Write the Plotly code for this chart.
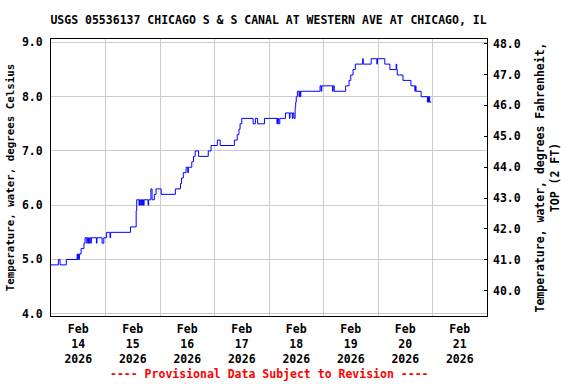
import plotly.graph_objects as go

TITLE = "USGS 05536137 CHICAGO S & S CANAL AT WESTERN AVE AT CHICAGO, IL"
Y_LEFT_TITLE = "Temperature, water, degrees Celsius"
Y_RIGHT_TITLE = "Temperature, water, degrees Fahrenheit,<br>TOP (2 FT)"
NOTE = "---- Provisional Data Subject to Revision ----"

times = [
    "2026-02-14 00:00", "2026-02-14 03:15", "2026-02-14 04:00", "2026-02-14 06:45",
    "2026-02-14 11:30", "2026-02-14 11:45", "2026-02-14 12:00", "2026-02-14 12:15",
    "2026-02-14 12:30", "2026-02-14 13:15", "2026-02-14 14:30", "2026-02-14 15:00",
    "2026-02-14 15:45", "2026-02-14 16:00", "2026-02-14 16:30", "2026-02-14 17:00",
    "2026-02-14 17:30", "2026-02-14 17:45", "2026-02-14 20:00", "2026-02-14 20:15",
    "2026-02-14 22:30", "2026-02-14 23:15", "2026-02-15 00:30", "2026-02-15 02:00",
    "2026-02-15 02:15", "2026-02-15 11:00", "2026-02-15 13:30", "2026-02-15 13:45",
    "2026-02-15 14:45", "2026-02-15 15:00", "2026-02-15 15:30", "2026-02-15 15:45",
    "2026-02-15 16:00", "2026-02-15 16:15", "2026-02-15 16:45", "2026-02-15 17:00",
    "2026-02-15 18:45", "2026-02-15 19:00", "2026-02-15 20:00", "2026-02-15 20:30",
    "2026-02-15 21:30", "2026-02-15 22:15", "2026-02-16 00:30", "2026-02-16 06:45",
    "2026-02-16 09:00", "2026-02-16 09:30", "2026-02-16 10:15", "2026-02-16 11:30",
    "2026-02-16 12:15", "2026-02-16 12:30", "2026-02-16 14:00", "2026-02-16 14:45",
    "2026-02-16 15:30", "2026-02-16 17:00", "2026-02-16 21:15", "2026-02-16 22:30",
    "2026-02-17 01:15", "2026-02-17 02:30", "2026-02-17 08:45", "2026-02-17 10:00",
    "2026-02-17 10:45", "2026-02-17 11:15", "2026-02-17 12:00", "2026-02-17 17:00",
    "2026-02-17 18:00", "2026-02-17 19:00", "2026-02-17 22:00", "2026-02-18 03:30",
    "2026-02-18 03:45", "2026-02-18 04:15", "2026-02-18 04:45", "2026-02-18 07:15",
    "2026-02-18 09:00", "2026-02-18 09:15", "2026-02-18 10:15", "2026-02-18 10:30",
    "2026-02-18 11:00", "2026-02-18 11:30", "2026-02-18 11:45", "2026-02-18 12:00",
    "2026-02-18 12:30", "2026-02-18 13:15", "2026-02-18 13:30", "2026-02-18 13:45",
    "2026-02-18 14:00", "2026-02-18 22:30", "2026-02-18 23:00", "2026-02-18 23:15",
    "2026-02-19 04:00", "2026-02-19 04:15", "2026-02-19 04:45", "2026-02-19 09:45",
    "2026-02-19 11:15", "2026-02-19 12:00", "2026-02-19 13:00", "2026-02-19 14:00",
    "2026-02-19 17:15", "2026-02-19 17:30", "2026-02-19 21:00", "2026-02-19 23:30",
    "2026-02-19 23:45", "2026-02-20 03:00", "2026-02-20 05:15", "2026-02-20 08:00",
    "2026-02-20 08:15", "2026-02-20 08:30", "2026-02-20 11:00", "2026-02-20 14:30",
    "2026-02-20 16:15", "2026-02-20 16:30", "2026-02-20 16:45", "2026-02-20 19:00",
    "2026-02-20 21:45", "2026-02-20 22:00", "2026-02-20 22:15", "2026-02-20 22:30",
    "2026-02-20 22:45", "2026-02-20 23:30",
]

temps_c = [
    4.9, 5.0, 4.9, 5.0,
    5.1, 5.0, 5.1, 5.0,
    5.1, 5.2, 5.3, 5.4,
    5.3, 5.4, 5.3, 5.4,
    5.3, 5.4, 5.3, 5.4,
    5.3, 5.4, 5.5, 5.4,
    5.5, 5.6, 5.9, 6.1,
    6.0, 6.1, 6.0, 6.1,
    6.0, 6.1, 6.0, 6.1,
    6.0, 6.1, 6.3, 6.1,
    6.2, 6.3, 6.2, 6.3,
    6.4, 6.5, 6.6, 6.7,
    6.6, 6.7, 6.8, 6.9,
    7.0, 6.9, 7.0, 7.1,
    7.2, 7.1, 7.2, 7.3,
    7.4, 7.5, 7.6, 7.5,
    7.6, 7.5, 7.6, 7.5,
    7.6, 7.5, 7.6, 7.7,
    7.6, 7.7, 7.6, 7.7,
    7.6, 7.8, 7.9, 8.0,
    8.1, 8.0, 8.1, 8.0,
    8.1, 8.2, 8.1, 8.2,
    8.1, 8.2, 8.1, 8.2,
    8.3, 8.4, 8.5, 8.6,
    8.7, 8.6, 8.7, 8.6,
    8.7, 8.6, 8.5, 8.6,
    8.5, 8.4, 8.3, 8.2,
    8.1, 8.2, 8.1, 8.0,
    7.9, 8.0, 7.9, 8.0,
    7.9, 7.9,
]

temps_f = [c * 1.8 + 32 for c in temps_c]

tick_days = ["2026-02-14", "2026-02-15", "2026-02-16", "2026-02-17",
             "2026-02-18", "2026-02-19", "2026-02-20", "2026-02-21"]
tick_labels = ["Feb<br>14<br>2026", "Feb<br>15<br>2026", "Feb<br>16<br>2026", "Feb<br>17<br>2026",
               "Feb<br>18<br>2026", "Feb<br>19<br>2026", "Feb<br>20<br>2026", "Feb<br>21<br>2026"]
x_start = "2026-02-14 00:00"
x_end = "2026-02-22 00:00"
c_ticks = [4, 5, 6, 7, 8, 9]
f_ticks = [40, 41, 42, 43, 44, 45, 46, 47, 48]

FONT = "DejaVu Sans Mono"
GRID = "#cccccc"
FS = 11.5

fig = go.Figure()
fig.add_trace(go.Scatter(x=times, y=temps_c, mode="lines", line_shape="hv",
                         line=dict(color="#0000ff", width=1), showlegend=False))
fig.add_trace(go.Scatter(x=times, y=temps_f, mode="lines", line_shape="hv",
                         line=dict(color="rgba(0,0,0,0)", width=0), yaxis="y2",
                         showlegend=False, hoverinfo="skip"))

fig.update_layout(
    width=576, height=384,
    margin=dict(l=51, r=89, t=39, b=68, autoexpand=False),
    paper_bgcolor="white", plot_bgcolor="white",
    font=dict(family=FONT, size=FS, color="black", weight="bold"),
    title=dict(text=TITLE, x=268.5 / 576, xanchor="center", xref="container",
               y=1 - 20 / 384, yanchor="middle", yref="container",
               font=dict(family=FONT, size=FS, color="black", weight="bold")),
    xaxis=dict(
        type="date", range=[x_start, x_end], automargin=False,
        tickvals=[d + " 12:00" for d in tick_days], ticktext=tick_labels,
        ticks="", showgrid=False, showline=True, linecolor="black", linewidth=1,
        mirror=True, zeroline=False, ticklabelstandoff=2,
        tickfont=dict(family=FONT, size=FS, weight="bold"),
        minor=dict(showgrid=True, gridcolor=GRID, gridwidth=1,
                   tick0=x_start, dtick=86400000),
    ),
    yaxis=dict(
        range=[3.958, 9.063], tickvals=c_ticks, tickformat=".1f", automargin=False,
        showgrid=True, gridcolor=GRID, gridwidth=1, ticks="",
        showline=True, linecolor="black", linewidth=1, mirror=True, zeroline=False,
        ticklabelstandoff=5,
        tickfont=dict(family=FONT, size=FS, weight="bold"),
        title=dict(text=Y_LEFT_TITLE, standoff=5,
                   font=dict(family=FONT, size=10.8, weight="bold")),
    ),
    yaxis2=dict(
        overlaying="y", side="right", range=[39.18, 48.15], tickvals=f_ticks,
        tickformat=".1f", showgrid=False, zeroline=False, ticks="inside",
        ticklen=3, tickcolor="black", showline=False, automargin=False,
        ticklabelstandoff=5,
        tickfont=dict(family=FONT, size=FS, weight="bold"),
        title=dict(text=Y_RIGHT_TITLE, standoff=16,
                   font=dict(family=FONT, size=FS, weight="bold")),
    ),
    annotations=[dict(text=NOTE, xref="paper", yref="paper", x=0.5, y=(316 - 374) / 277,
                      xanchor="center", yanchor="middle", showarrow=False,
                      font=dict(family=FONT, size=FS, color="#ff0000", weight="bold"))],
)

fig.write_html("out.html", config={"displayModeBar": False},
               post_script="document.body.style.margin='0';document.body.style.overflow='hidden';")
